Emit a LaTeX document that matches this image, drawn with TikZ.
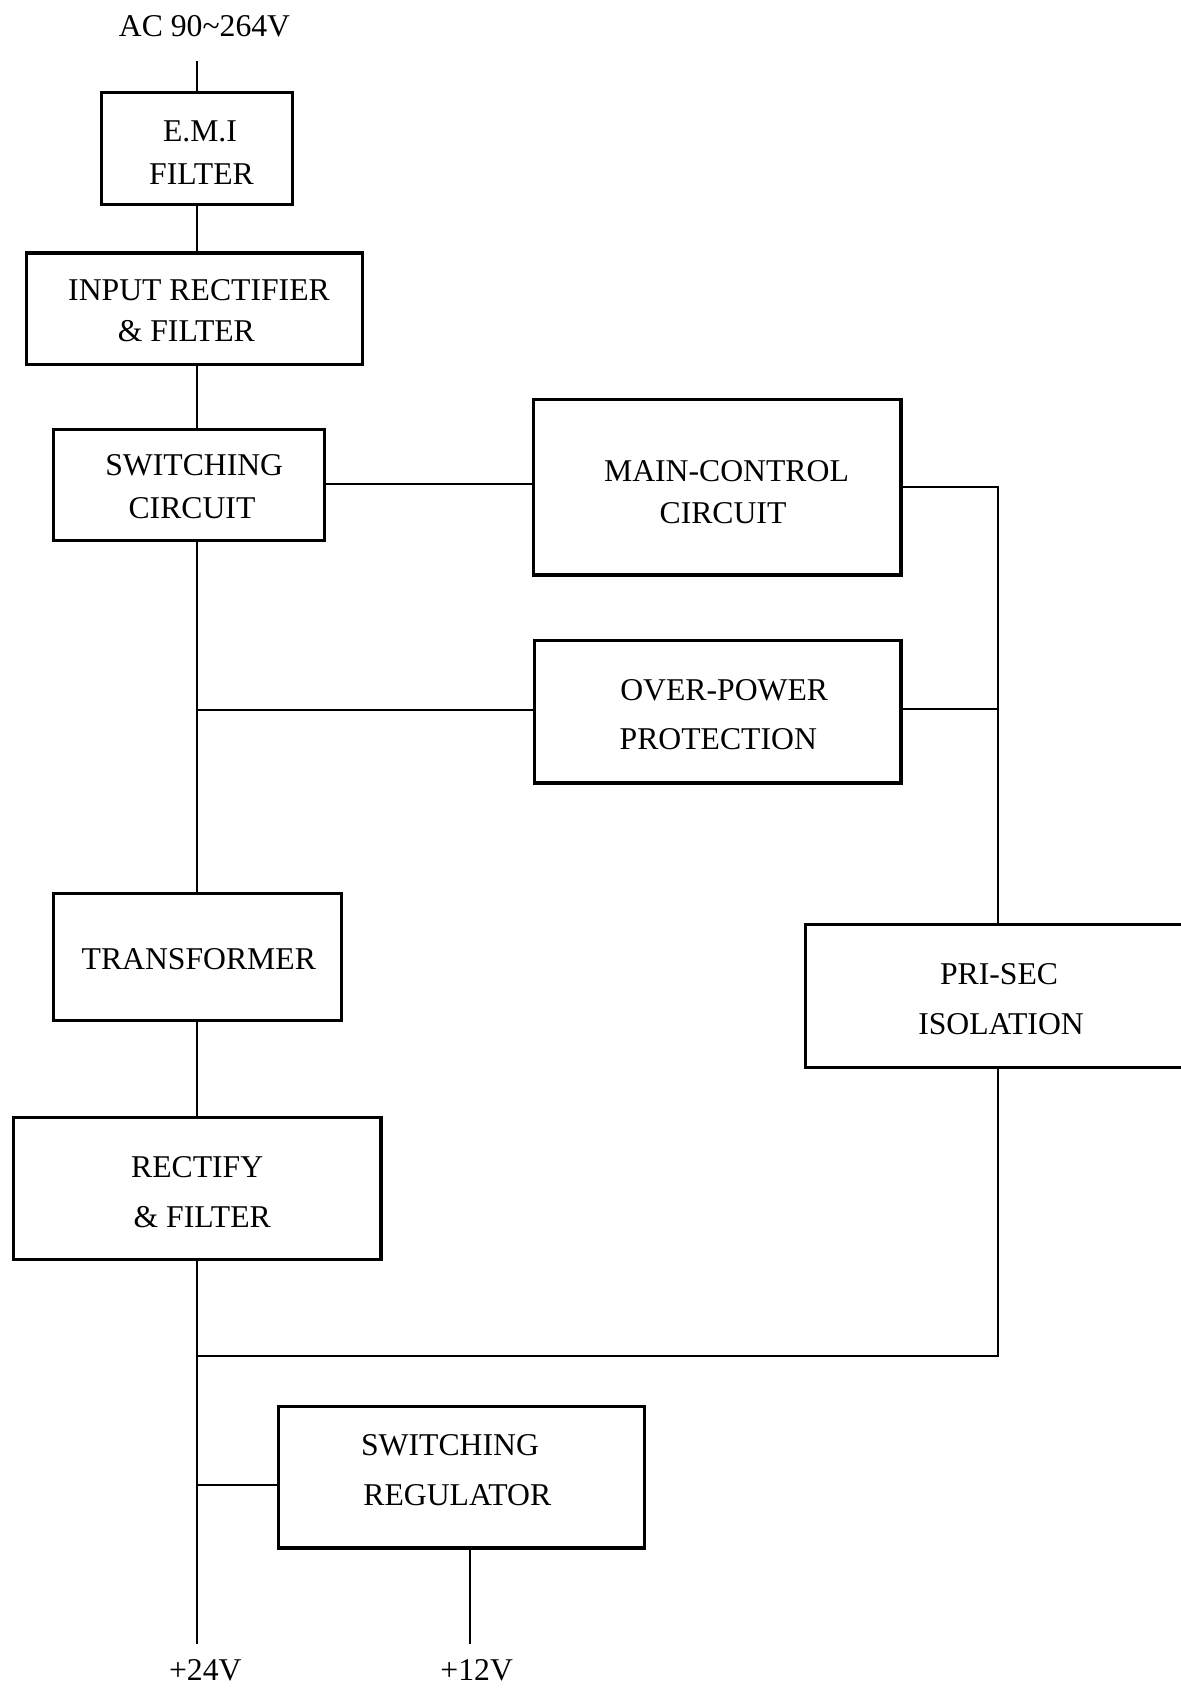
\documentclass[tikz,border=0pt]{standalone}
\usepackage{fontspec}
\setmainfont{Liberation Serif}
\begin{document}
\begin{tikzpicture}[x=1pt,y=-1pt,
  box/.style={draw=black, line width=3.4pt, rectangle, inner sep=0pt, outer sep=0pt, fill=white},
  wire/.style={draw=black, line width=2pt},
  txt/.style={anchor=base, inner sep=0pt, font=\fontsize{31.7}{38}\selectfont}]
\useasboundingbox (0,0) rectangle (1180,1688);
\fill[white] (0,0) rectangle (1180,1688);

% bus coordinates
\coordinate (top) at (197,61);
\coordinate (j1) at (197,710);
\coordinate (j2) at (197,1355.5);
\coordinate (j3) at (197,1485);
\coordinate (o24) at (197,1644);
\coordinate (o12) at (470,1644);
\coordinate (r1) at (997.5,486.7);
\coordinate (r2) at (997.5,708.7);
\coordinate (r3) at (997.5,1355.5);

% connectors (drawn first, under boxes)
\draw[wire] (top) -- (o24);
\draw[wire] (189,484.3) -- (717,484.3);
\draw[wire] (717,486.7) -- (r1) -- (997.5,996);
\draw[wire] (j1) -- (717,710);
\draw[wire] (717,708.7) -- (r2);
\draw[wire] (j2) -- (r3) -- (997.5,996);
\draw[wire] (j3) -- (461,1485);
\draw[wire] (o12) -- (470,1477);

% boxes
\node[box, minimum width=191, minimum height=112.3] (emi) at (197,148.4) {};
\node[box, minimum width=336, minimum height=111] (inrect) at (194.5,308.7) {};
\node[box, minimum width=271, minimum height=111] (sw) at (189,484.7) {};
\node[box, minimum width=367.5, minimum height=175.5] (main) at (717.25,487.25) {};
\node[box, minimum width=366.6, minimum height=142.3] (op) at (717.5,711.7) {};
\node[box, minimum width=288, minimum height=127] (tr) at (197.2,956.7) {};
\node[box, minimum width=367.6, minimum height=142.3] (rf) at (197,1188.4) {};
\node[box, minimum width=400, minimum height=143] (iso) at (1005.5,996) {};
\node[box, minimum width=366, minimum height=141.3] (reg) at (461.5,1477.2) {};

% texts
\node[txt] (ac) at (204.5,37) {AC 90\textasciitilde 264V};
\node[txt] (emi1) at (200,141.7) {E.M.I};
\node[txt] (emi2) at (201.5,184.3) {FILTER};
\node[txt] (in1) at (199,300.7) {INPUT RECTIFIER};
\node[txt] (in2) at (186.3,341.7) {\& FILTER};
\node[txt] (sw1) at (194.2,475.7) {SWITCHING};
\node[txt] (sw2) at (192,518.3) {CIRCUIT};
\node[txt] (mc1) at (726.5,481) {MAIN-CONTROL};
\node[txt] (mc2) at (723,523.3) {CIRCUIT};
\node[txt] (op1) at (724.2,700) {OVER-POWER};
\node[txt] (op2) at (718.3,749.3) {PROTECTION};
\node[txt] (tr1) at (198.8,969.3) {TRANSFORMER};
\node[txt] (rf1) at (197.2,1177.7) {RECTIFY};
\node[txt] (rf2) at (202.2,1227.7) {\& FILTER};
\node[txt] (iso1) at (999,984) {PRI-SEC};
\node[txt] (iso2) at (1001,1034) {ISOLATION};
\node[txt] (reg1) at (450,1455) {SWITCHING};
\node[txt] (reg2) at (457.3,1505.3) {REGULATOR};
\node[txt] (v24) at (205.3,1680) {+24V};
\node[txt] (v12) at (476.7,1680) {+12V};
\end{tikzpicture}
\end{document}
